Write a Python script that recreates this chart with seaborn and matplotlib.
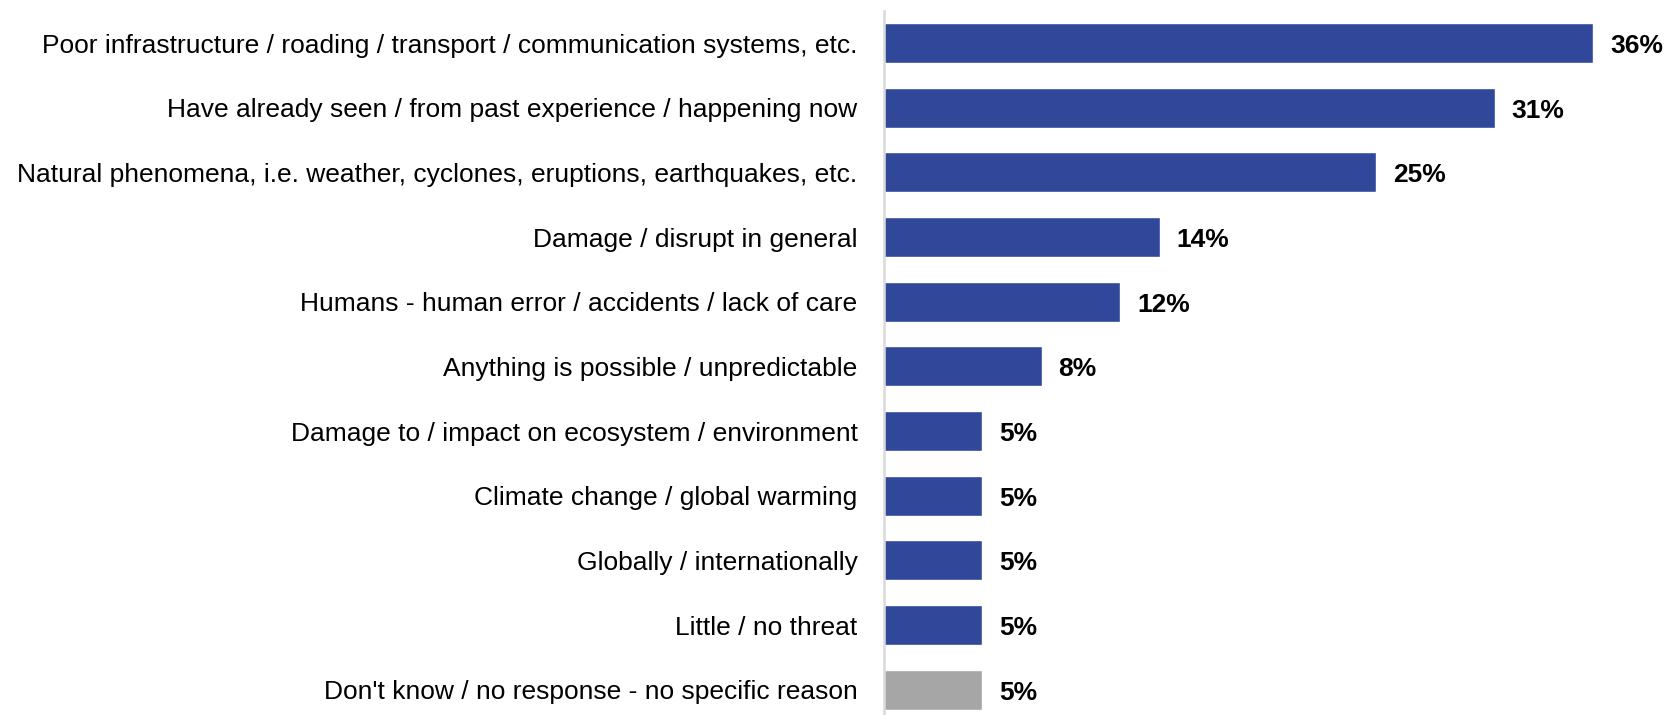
import matplotlib
matplotlib.use("Agg")
import matplotlib.pyplot as plt
import seaborn as sns
import pandas as pd

categories = [
    "Poor infrastructure / roading / transport / communication systems, etc.",
    "Have already seen / from past experience / happening now",
    "Natural phenomena, i.e. weather, cyclones, eruptions, earthquakes, etc.",
    "Damage / disrupt in general",
    "Humans - human error / accidents / lack of care",
    "Anything is possible / unpredictable",
    "Damage to / impact on ecosystem / environment",
    "Climate change / global warming",
    "Globally / internationally",
    "Little / no threat",
    "Don't know / no response - no specific reason",
]
values = [36, 31, 25, 14, 12, 8, 5, 5, 5, 5, 5]
bar_colors = ["#30479A"] * 10 + ["#A6A6A6"]

sns.set_style("white")
plt.rcParams["font.family"] = ["Liberation Sans", "DejaVu Sans"]

df = pd.DataFrame({"reason": categories, "pct": values})

fig = plt.figure(figsize=(16.66, 7.15), dpi=100)
ax = fig.add_axes([884 / 1666, 0.0, (1666 - 884) / 1666, 1 - 11 / 715])

sns.barplot(data=df, x="pct", y="reason", hue="reason", palette=bar_colors,
            legend=False, width=0.62, ax=ax, saturation=1)

ax.set_xlim(0, 39.7)
ax.set_ylim(10.39, -0.495)

# value labels, nudged down a touch so the digits sit on the bar's midline
for i, v in enumerate(values):
    ax.text(v + 0.85, i + 0.045, f"{v}%", va="center", ha="left",
            fontsize=19, fontweight="bold", color="black")

ax.set_xlabel("")
ax.set_ylabel("")
ax.set_xticks([])
ax.tick_params(axis="y", length=0, pad=19, labelsize=19, labelcolor="black")
for lbl in ax.get_yticklabels():
    lbl.set_va("center_baseline")
for s in ["top", "right", "bottom"]:
    ax.spines[s].set_visible(False)
ax.spines["left"].set_color("#D9D9D9")
ax.spines["left"].set_linewidth(1.8)

fig.savefig("out.png", dpi=100)
